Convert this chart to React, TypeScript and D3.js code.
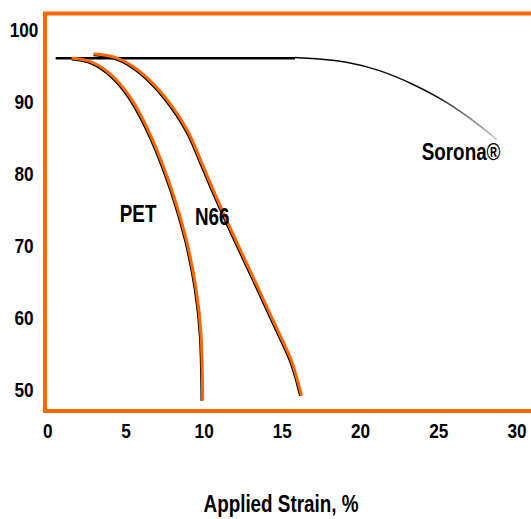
import React, { useRef, useEffect } from 'react';
import * as d3 from 'd3';

// strain (%) vs retained value
const petStrain = [1.8, 2.8, 4.0, 5.45, 6.9, 8.2, 9.1, 9.7, 10.05, 10.1];
const petValue = [96.0, 95.8, 94.4, 91.1, 85.0, 77.5, 70.8, 64.2, 57.8, 48.6];

const n66Strain = [3.2, 4.6, 6.1, 7.8, 9.3, 9.8, 11.6, 13.3, 15.0, 15.8, 16.4];
const n66Value = [96.6, 96.3, 94.4, 90.6, 85.6, 82.6, 73.5, 65.8, 57.6, 54.3, 49.3];

const flatStrain = [0.7, 16.0];
const flatValue = [96.0, 96.0];

const soronaStrain = [16.0, 17.2, 19.3, 21.4, 23.5, 25.7, 27.8, 28.9];
const soronaValue = [96.1, 96.0, 95.6, 94.4, 92.5, 90.0, 86.7, 84.7];

const xTicks = [0, 5, 10, 15, 20, 25, 30];
const yTicks = [50, 60, 70, 80, 90, 100];

const labels = [
  { text: 'PET', x: 4.8, y: 73.3 },
  { text: 'N66', x: 9.6, y: 72.8 },
  { text: 'Sorona®', x: 24.1, y: 81.9 },
];

const App: React.FC = () => {
  const svgRef = useRef<SVGSVGElement | null>(null);

  useEffect(() => {
    const svg = d3.select(svgRef.current);
    svg.selectAll('*').remove();

    const width = 531;
    const height = 519;
    const font = "'Liberation Sans', Arial, sans-serif";
    const orange = '#ff6600';
    const narrow = 0.82; // squeeze to mimic a narrow face

    const x = d3.scaleLinear().domain([0, 30]).range([44.7, 514]);
    const y = d3.scaleLinear().domain([50, 100]).range([389.5, 29.5]);

    svg.attr('width', width).attr('height', height);

    const zip = (xs: number[], ys: number[]) => xs.map((v, i) => [v, ys[i]] as [number, number]);
    const line = d3.line<[number, number]>()
      .x(d => x(d[0]))
      .y(d => y(d[1]))
      .curve(d3.curveBasis);

    const addText = (t: string, tx: number, ty: number, anchor: string, size = 21) =>
      svg.append('text')
        .attr('transform', `translate(${tx},${ty}) scale(${narrow},1)`)
        .attr('text-anchor', anchor)
        .attr('font-family', font)
        .attr('font-weight', 'bold')
        .attr('font-size', size)
        .text(t);

    // frame (right side runs off the picture)
    svg.append('path')
      .attr('d', `M${width + 10},13.5 H45 V411 H${width + 10}`)
      .attr('fill', 'none')
      .attr('stroke', orange)
      .attr('stroke-width', 4);

    // fading gradient for Sorona tail
    const grad = svg.append('defs').append('linearGradient')
      .attr('id', 'soronaFade')
      .attr('gradientUnits', 'userSpaceOnUse')
      .attr('x1', x(16)).attr('y1', y(96))
      .attr('x2', x(29)).attr('y2', y(84.5));
    grad.append('stop').attr('offset', '0%').attr('stop-color', '#000');
    grad.append('stop').attr('offset', '65%').attr('stop-color', '#111');
    grad.append('stop').attr('offset', '100%').attr('stop-color', '#c8c8c8');

    svg.append('path')
      .attr('d', line(zip(soronaStrain, soronaValue))!)
      .attr('fill', 'none')
      .attr('stroke', 'url(#soronaFade)')
      .attr('stroke-width', 1.5);

    svg.append('path')
      .attr('d', line(zip(flatStrain, flatValue))!)
      .attr('fill', 'none')
      .attr('stroke', '#000')
      .attr('stroke-width', 2.6);

    // PET & N66: black shadow line then orange on top
    [zip(petStrain, petValue), zip(n66Strain, n66Value)].forEach(pts => {
      svg.append('path')
        .attr('d', line(pts)!)
        .attr('transform', 'translate(-1.2,1.2)')
        .attr('fill', 'none')
        .attr('stroke', '#000')
        .attr('stroke-width', 2);
      svg.append('path')
        .attr('d', line(pts)!)
        .attr('fill', 'none')
        .attr('stroke', orange)
        .attr('stroke-width', 3)
        .attr('stroke-linecap', 'round');
    });

    // tick labels
    xTicks.forEach(d => addText(String(d), x(d) + 3, 438, 'middle'));
    yTicks.forEach(d => addText(String(d), 24, y(d) + 7.5, 'middle'));

    // series labels
    labels.forEach(d => addText(d.text, x(d.x), y(d.y), 'start', 23));

    addText('Applied Strain, %', 281, 512, 'middle', 23);
  }, []);

  return (
    <svg ref={svgRef} style={{ position: 'absolute', left: 0, top: 0, background: '#fff' }}></svg>
  );
};

export default App;
